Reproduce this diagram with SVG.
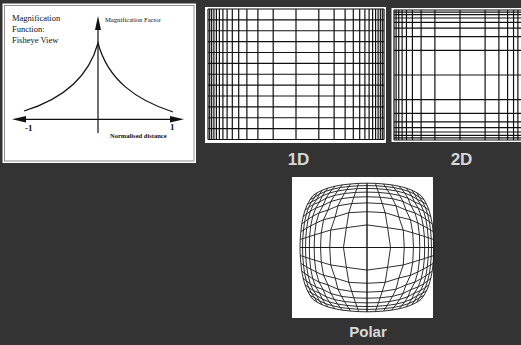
<svg xmlns="http://www.w3.org/2000/svg" width="521" height="345" viewBox="0 0 521 345">
<style>
.bg{fill:#333333}
.paper{fill:#ffffff}
.ser{font-family:"Liberation Serif","Times New Roman",serif;fill:#111}
.lbl{font-family:"Liberation Sans",Arial,sans-serif;font-weight:bold;fill:#d8d8d8;text-anchor:middle}
.ax{stroke:#111;stroke-width:1.2;fill:none}
.grid{stroke:#111;stroke-width:1.2;fill:none}
.pgrid{stroke:#151515;stroke-width:0.9;fill:none;stroke-linejoin:round}
.head{fill:#111}
</style>
<defs>
<clipPath id="clip2d"><rect x="391.5" y="8" width="130" height="134"/></clipPath>
<path id="q" d="M0,0V66.3
M23.3,0L20.4,20.4L18.0,35.9L15.1,45.3L13.0,51.9L11.4,56.8L10.1,60.6L9.1,63.6L8.3,66.1
M36.9,0L35.9,18.0L31.5,31.5L28.7,43.0L25.2,50.4L22.3,55.7L20.0,59.7L18.0,62.9L16.4,65.5
M46.0,0L45.3,15.1L43.0,28.7L38.6,38.6L35.6,47.5L32.2,53.7L29.1,58.3L26.5,61.8L24.3,64.6
M52.3,0L51.9,13.0L50.4,25.2L47.5,35.6L43.4,43.4L40.6,50.7L37.4,56.1L34.4,60.0L31.6,63.2
M57.1,0L56.8,11.4L55.7,22.3L53.7,32.2L50.7,40.6L47.0,47.0L44.3,53.1L41.3,57.8L38.4,61.4
M60.9,0L60.6,10.1L59.7,20.0L58.3,29.1L56.1,37.4L53.1,44.3L49.7,49.7L47.1,55.0L44.3,59.1
M63.8,0L63.6,9.1L62.9,18.0L61.8,26.5L60.0,34.4L57.8,41.3L55.0,47.1L51.8,51.8L49.4,56.4
M66.3,0L66.1,8.3L65.5,16.4L64.6,24.3L63.2,31.6L61.4,38.4L59.1,44.3L56.4,49.4L53.5,53.5"/>
<g id="quad"><use href="#q"/><use href="#q" transform="matrix(0,1,1,0,0,0)"/></g>
</defs>
<rect class="bg" x="0" y="0" width="521" height="345"/>

<g id="fisheye-function">
<rect class="paper" x="2.5" y="3.5" width="193.5" height="159.5"/>
<rect x="4.5" y="5.5" width="189.5" height="155.5" fill="none" stroke="#777" stroke-width="0.8"/>
<text class="ser" font-size="8.5" x="12" y="21">Magnification</text>
<text class="ser" font-size="8.5" x="12" y="32">Function:</text>
<text class="ser" font-size="8.5" x="12" y="43">Fisheye View</text>
<text class="ser" font-size="6.6" x="105" y="22">Magnification Factor</text>
<path class="ax" d="M98,28V133 M24,119.3H172"/>
<path class="head" d="M98,16L95,30L101,30Z M12,119.3L26,116L26,122.6Z M184,119.3L170,116L170,122.6Z"/>
<path class="ax" d="M24,111C60,100 88,80 98,43C108,80 136,100 173,112"/>
<text class="ser" font-size="9" font-weight="bold" x="25" y="131">-1</text>
<text class="ser" font-size="9" font-weight="bold" x="170" y="130">1</text>
<text class="ser" font-size="6.5" font-weight="bold" x="110" y="138">Normalised distance</text>
</g>

<g id="grid-1d">
<rect class="paper" x="205" y="7" width="181" height="136"/>
<path class="grid" d="M208,9V139.5M209.7,9V139.5M211.65,9V139.5M213.9,9V139.5M216.4,9V139.5M219.4,9V139.5M222.9,9V139.5M227.1,9V139.5M232.3,9V139.5M238.7,9V139.5M246.9,9V139.5M257.9,9V139.5M273.2,9V139.5M296,9V139.5M318.8,9V139.5M334.1,9V139.5M345.1,9V139.5M353.3,9V139.5M359.7,9V139.5M364.9,9V139.5M369.1,9V139.5M372.6,9V139.5M375.6,9V139.5M378.1,9V139.5M380.35,9V139.5M382.3,9V139.5M384,9V139.5
M208,9H384M208,19.9H384M208,30.75H384M208,41.6H384M208,52.5H384M208,63.4H384M208,74.25H384M208,85.1H384M208,96H384M208,106.9H384M208,117.75H384M208,128.6H384M208,139.5H384"/>
<text class="lbl" font-size="17" x="298.5" y="164.5">1D</text>
</g>

<g id="grid-2d">
<rect class="paper" x="391.5" y="8" width="130" height="134"/>
<path class="grid" clip-path="url(#clip2d)" d="M394,10V140M396.1,10V140M398.75,10V140M402.1,10V140M406.45,10V140M412.4,10V140M421.1,10V140M434.9,10V140M460,10V140M485.1,10V140M498.9,10V140M507.6,10V140M513.55,10V140M517.9,10V140
M394,10H526M394,12.1H526M394,14.7H526M394,18H526M394,22.3H526M394,28.15H526M394,36.7H526M394,50.3H526M394,75H526M394,99.7H526M394,113.3H526M394,121.85H526M394,127.7H526M394,132H526M394,135.3H526M394,137.9H526M394,140H526"/>
<text class="lbl" font-size="17" x="461.5" y="164.5">2D</text>
</g>

<g id="grid-polar">
<rect class="paper" x="292" y="177" width="141" height="141"/>
<g class="pgrid" transform="translate(367,247.5) scale(1.01,0.97)">
<use href="#quad"/>
<use href="#quad" transform="scale(-1,1)"/>
<use href="#quad" transform="scale(1,-1)"/>
<use href="#quad" transform="scale(-1,-1)"/>
</g>
<text class="lbl" font-size="15" x="368" y="337">Polar</text>
</g>

<g id="connectors"></g>
</svg>
